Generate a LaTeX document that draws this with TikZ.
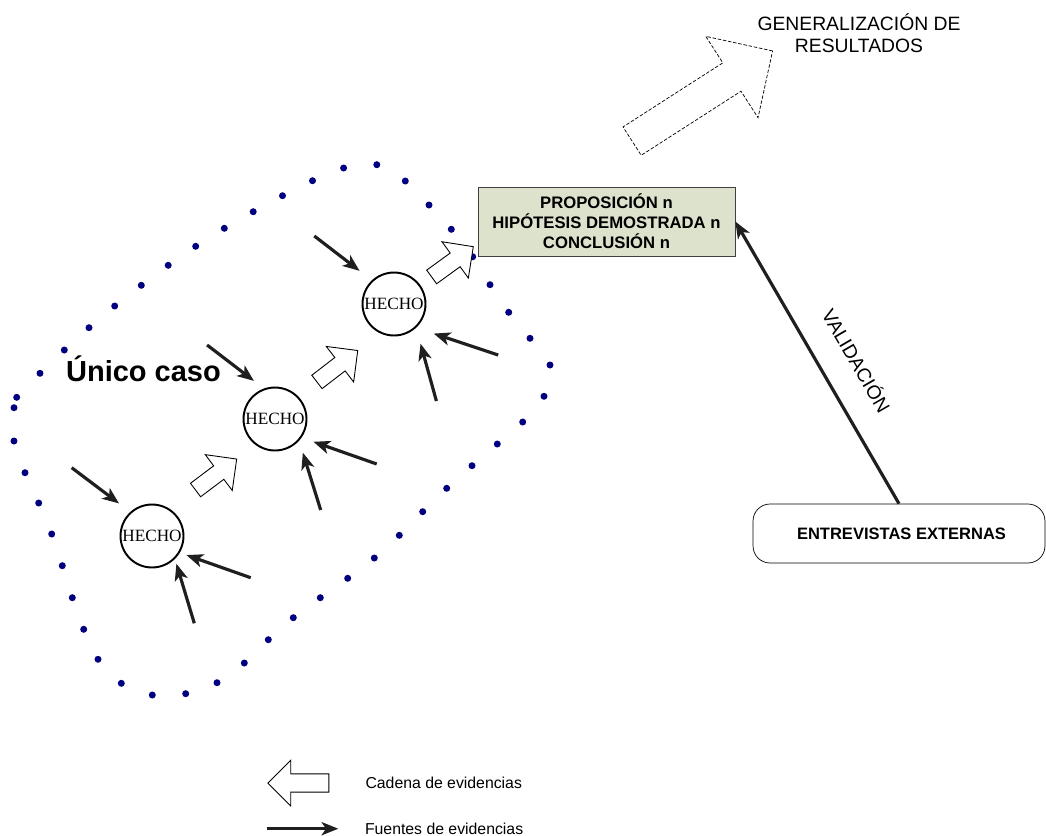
\documentclass[tikz,border=0pt]{standalone}
\usepackage{fontspec}
\setmainfont{Liberation Sans}
\newfontfamily\seriftxt{Liberation Serif}
\usepackage{xcolor}
\usetikzlibrary{arrows.meta,positioning,shapes.arrows}
\definecolor{azulpunto}{RGB}{0,0,128}
\definecolor{verdecaja}{RGB}{221,226,204}

\begin{document}
\begin{tikzpicture}[x=0.02cm,y=-0.02cm,
  hecho/.style={draw,circle,line width=1.1pt,minimum size=1.26cm,inner sep=0pt,
    font=\seriftxt\fontsize{9.8}{10}\selectfont},
  caja/.style={draw=black!75,fill=verdecaja,align=center,minimum width=5.14cm,minimum height=1.38cm,
    font=\bfseries\fontsize{9.5}{11.3}\selectfont},
  entrev/.style={draw,rounded corners=0.34cm,minimum width=5.84cm,minimum height=1.18cm,
    font=\bfseries\fontsize{9.4}{11}\selectfont},
  cadena/.style={single arrow,draw,line width=0.5pt,fill=white,inner xsep=0pt,inner ysep=0.16cm,
    minimum height=1.03cm,single arrow head extend=0.28cm,single arrow tip angle=90,anchor=tail},
  leyenda/.style={anchor=west,font=\fontsize{9}{11}\selectfont},
  punto/.style={fill=azulpunto},
  >={Stealth[length=9.5pt,width=7.5pt,inset=2.5pt]},
  every edge/.style={draw,->,black!88,line width=1.8pt,shorten >=0.25cm}]
  \useasboundingbox (0,0) rectangle (1046,836);
  % dotted outline of the case
  \foreach \x/\y in {376.8/164.7,405.3/181,429/205,451.3/229.3,472.7/256.7,490/284.7,508.7/312.3,
    530/338.3,550/365,544/396.3,522.7/422,497.3/444,472/465.7,446.7/488.3,422.7/511.7,399.3/535.3,
    374.3/558,347.7/578.3,320.3/597.7,293.3/617.7,268.3/639.7,244.3/663,217/682.7,185.7/693.7,
    152.3/695,121.3/683.3,98/659.3,83.7/629.3,72.3/597.7,62.3/565.7,51.7/534,38.7/503,25/472.7,
    14/441,14/407.7,16.7/397.3,40/373.3,64.3/350,89/327.7,114.7/306,141.3/285.3,168.2/265.3,
    195.7/246.3,224.3/228.3,253.2/211.7,282.5/195.7,312.5/180.7,343.6/168}
    \fill[punto] (\x,\y) circle[radius=0.07cm];

  \node[font=\bfseries\fontsize{16.5}{18}\selectfont] (unico) at (143.5,369) {Único caso};
  \node[hecho] (h1) at (152,536) {HECHO};
  \node[hecho] (h2) at (275,419) {HECHO};
  \node[hecho] (h3) at (394,304) {HECHO};
  \node[caja] (prop) at (606.5,221.5) {PROPOSICIÓN n\\HIPÓTESIS DEMOSTRADA n\\CONCLUSIÓN n};
  \node[entrev] (ent) at (899,533.5) {\hspace{0.1cm}ENTREVISTAS EXTERNAS};

  % chain of evidence
  \node[cadena,rotate=37] (c1) at (195.2,490.3) {};
  \node[cadena,rotate=37.6] (c2) at (316.6,382.2) {};
  \node[cadena,rotate=36] (c3) at (431.3,277.2) {};
  \node[cadena,dash pattern=on 2pt off 1pt,line width=0.4pt,inner ysep=0.33cm,minimum height=3.34cm,
    single arrow head extend=0.63cm,rotate=32.7] (gen) at (631.8,141.3) {};
  \node[align=center,font=\fontsize{11}{12.2}\selectfont] (gentxt) at (859,33) {GENERALIZACIÓN DE\\RESULTADOS};

  % sources of evidence
  \coordinate (f1a) at (71.7,467.7); \coordinate (f1b) at (250.7,577.7); \coordinate (f1c) at (194.3,623.3);
  \coordinate (f2a) at (207.1,345); \coordinate (f2b) at (376.7,464); \coordinate (f2c) at (320.7,510);
  \coordinate (f3a) at (314.3,236); \coordinate (f3b) at (498.2,355); \coordinate (f3c) at (436.4,401);
  \draw (f1a) edge[shorten >=0.28cm] (h1.132.5); \draw (f1b) edge[shorten >=0.14cm] (h1.-31);
  \draw (f1c) edge[shorten >=0.1cm] (h1.-45.6);
  \draw (f2a) edge (h2.110); \draw (f2b) edge (h2.-35.5); \draw (f2c) edge (h2.-42.5);
  \draw (f3a) edge[shorten >=0.31cm] (h3.133); \draw (f3b) edge[shorten >=0.37cm] (h3.-47);
  \draw (f3c) edge[shorten >=0.33cm] (h3.-47);

  \draw (ent.north) edge[shorten >=0pt] node[pos=0.445,sloped,above=0.4cm,black,font=\fontsize{11}{13}\selectfont]{VALIDACIÓN} (prop.east);

  % legend
  \node[cadena,inner ysep=0.173cm,minimum height=1.22cm,single arrow head extend=0.277cm,rotate=180]
    (leycad) at (329.3,783) {};
  \node[leyenda,right=0.6cm of leycad.tail] (leycadtxt) {Cadena de evidencias};
  \coordinate (leyf1) at (266.7,828.7); \coordinate (leyf2) at (338.3,828.7);
  \draw (leyf1) edge[shorten >=0pt] (leyf2);
  \node[leyenda,right=0.41cm of leyf2] (leyfuetxt) {Fuentes de evidencias};
\end{tikzpicture}
\end{document}
